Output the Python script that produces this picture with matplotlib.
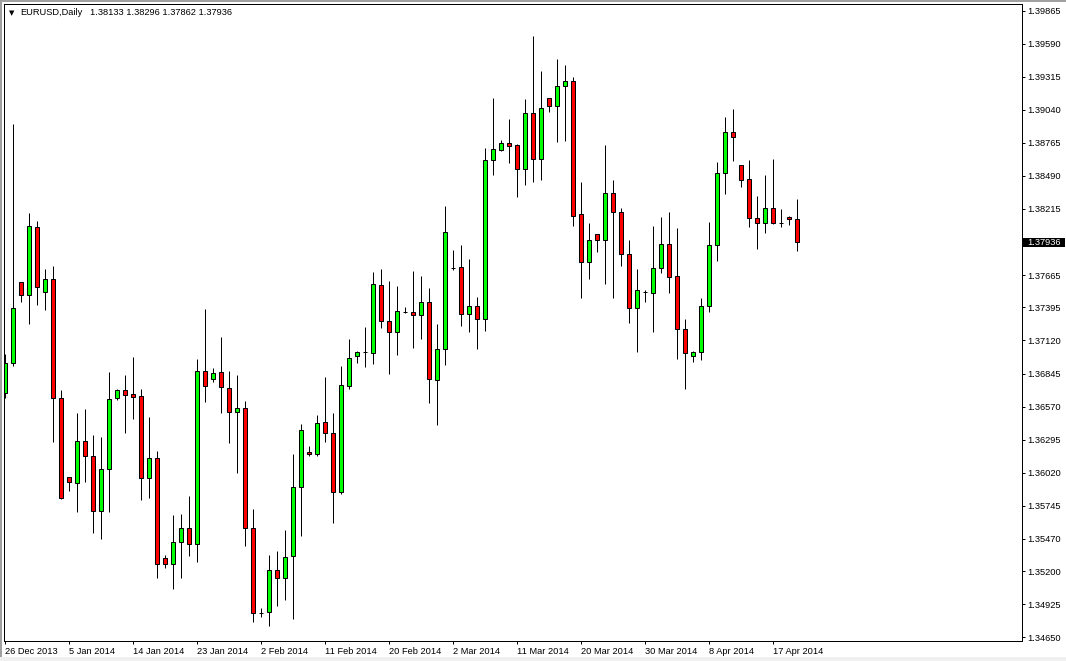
import matplotlib
matplotlib.use("Agg")
import matplotlib.pyplot as plt
import matplotlib.transforms as mtransforms
from matplotlib.patches import Rectangle

# ---------------- data (EURUSD daily) ----------------
symbol = "EURUSD,Daily"

opens = [
    1.36681, 1.36930, 1.37604, 1.37496, 1.38062, 1.37521, 1.37634, 1.36639, 1.35981, 1.35932,
    1.36284, 1.36159, 1.35699, 1.36048, 1.36644, 1.36706, 1.36672, 1.36656, 1.35973, 1.36140,
    1.35307, 1.35257, 1.35440, 1.35557, 1.35424, 1.36864, 1.36797, 1.36855, 1.36722, 1.36522,
    1.36556, 1.35557, 1.34855, 1.34858, 1.35207, 1.35141, 1.35324, 1.35898, 1.36190, 1.36173,
    1.36439, 1.36348, 1.35857, 1.36744, 1.36989, 1.37022, 1.37014, 1.37580, 1.37280, 1.37188,
    1.37360, 1.37355, 1.37330, 1.37438, 1.36789, 1.37047, 1.37726, 1.37729, 1.37338, 1.37405,
    1.37297, 1.38620, 1.38703, 1.38761, 1.38745, 1.38550, 1.39011, 1.38633, 1.39136, 1.39074,
    1.39236, 1.39277, 1.38170, 1.37771, 1.38004, 1.37954, 1.38348, 1.38190, 1.37838, 1.37388,
    1.37521, 1.37513, 1.37721, 1.37921, 1.37654, 1.37213, 1.36991, 1.37022, 1.37405, 1.37912,
    1.38512, 1.38853, 1.38578, 1.38462, 1.38137, 1.38096, 1.38220, 1.38101, 1.38148, 1.38133,
]
highs = [
    1.37005, 1.38922, 1.37604, 1.38179, 1.38112, 1.37713, 1.37738, 1.36708, 1.35985, 1.36514,
    1.36547, 1.36334, 1.36314, 1.36855, 1.36716, 1.36833, 1.36983, 1.36714, 1.36483, 1.36200,
    1.35335, 1.35668, 1.35676, 1.35826, 1.36964, 1.37382, 1.36891, 1.37149, 1.36866, 1.36833,
    1.36617, 1.35715, 1.34891, 1.35335, 1.35368, 1.35545, 1.36175, 1.36425, 1.36242, 1.36500,
    1.36816, 1.36517, 1.36908, 1.37130, 1.37035, 1.37232, 1.37690, 1.37715, 1.37615, 1.37571,
    1.37399, 1.37699, 1.37657, 1.37555, 1.37257, 1.38240, 1.37873, 1.37915, 1.37796, 1.37480,
    1.38720, 1.39138, 1.38789, 1.38964, 1.38753, 1.39130, 1.39654, 1.39363, 1.39140, 1.39463,
    1.39413, 1.39311, 1.38439, 1.38096, 1.38008, 1.38747, 1.38456, 1.38223, 1.37954, 1.37715,
    1.37540, 1.38073, 1.38148, 1.38187, 1.38056, 1.37299, 1.37033, 1.37471, 1.38104, 1.38606,
    1.38980, 1.39047, 1.38582, 1.38620, 1.38320, 1.38498, 1.38631, 1.38215, 1.38156, 1.38296,
]
lows = [
    1.36639, 1.36908, 1.37443, 1.37260, 1.37418, 1.37376, 1.36278, 1.35800, 1.35870, 1.35695,
    1.35945, 1.35515, 1.35465, 1.35695, 1.36625, 1.36353, 1.36467, 1.35793, 1.35812, 1.35146,
    1.35229, 1.35054, 1.35146, 1.35329, 1.35279, 1.36611, 1.36777, 1.36514, 1.36269, 1.36015,
    1.35412, 1.34775, 1.34821, 1.34746, 1.34913, 1.34963, 1.34802, 1.35495, 1.36159, 1.36161,
    1.36278, 1.35604, 1.35840, 1.36719, 1.36930, 1.36902, 1.36927, 1.37227, 1.36839, 1.37002,
    1.37346, 1.37060, 1.37135, 1.36597, 1.36417, 1.36919, 1.37707, 1.37243, 1.37193, 1.37052,
    1.37197, 1.38500, 1.38700, 1.38600, 1.38317, 1.38417, 1.38442, 1.38458, 1.39024, 1.38775,
    1.38783, 1.38076, 1.37476, 1.37634, 1.37859, 1.37588, 1.37476, 1.37743, 1.37268, 1.37027,
    1.37438, 1.37193, 1.37679, 1.37513, 1.36964, 1.36714, 1.36944, 1.36955, 1.37355, 1.37784,
    1.38342, 1.38617, 1.38398, 1.38067, 1.37884, 1.38017, 1.38090, 1.38067, 1.38084, 1.37862,
]
closes = [
    1.36930, 1.37388, 1.37496, 1.38071, 1.37563, 1.37634, 1.36639, 1.35807, 1.35940, 1.36284,
    1.36159, 1.35699, 1.36048, 1.36631, 1.36706, 1.36669, 1.36652, 1.35973, 1.36140, 1.35257,
    1.35257, 1.35440, 1.35557, 1.35424, 1.36864, 1.36739, 1.36847, 1.36731, 1.36522, 1.36556,
    1.35557, 1.34850, 1.34855, 1.35207, 1.35141, 1.35318, 1.35898, 1.36373, 1.36173, 1.36431,
    1.36348, 1.35857, 1.36747, 1.36972, 1.37022, 1.37022, 1.37588, 1.37280, 1.37188, 1.37363,
    1.37360, 1.37330, 1.37438, 1.36797, 1.37047, 1.38021, 1.37726, 1.37338, 1.37405, 1.37297,
    1.38620, 1.38711, 1.38761, 1.38741, 1.38550, 1.39011, 1.38633, 1.39053, 1.39074, 1.39236,
    1.39277, 1.38159, 1.37771, 1.37954, 1.37954, 1.38348, 1.38187, 1.37838, 1.37388, 1.37538,
    1.37521, 1.37721, 1.37921, 1.37646, 1.37213, 1.37014, 1.37022, 1.37405, 1.37912, 1.38512,
    1.38853, 1.38811, 1.38453, 1.38137, 1.38096, 1.38220, 1.38096, 1.38101, 1.38129, 1.37936,
]

date_tick_bars = [0, 8, 16, 24, 32, 40, 48, 56, 64, 72, 80, 88, 96]
date_tick_labels = ["26 Dec 2013", "5 Jan 2014", "14 Jan 2014", "23 Jan 2014",
                    "2 Feb 2014", "11 Feb 2014", "20 Feb 2014", "2 Mar 2014",
                    "11 Mar 2014", "20 Mar 2014", "30 Mar 2014", "8 Apr 2014",
                    "17 Apr 2014"]
price_ticks = [1.34650, 1.34925, 1.35200, 1.35470, 1.35745, 1.36020, 1.36295,
               1.36570, 1.36845, 1.37120, 1.37395, 1.37665, 1.38215, 1.38490,
               1.38765, 1.39040, 1.39315, 1.39590, 1.39865]

# ---------------- figure ----------------
W, H = 1066, 661
DPI = 100
PX = 72.0 / DPI  # points per pixel
FONT = "Liberation Sans"
FS = 6.7

fig = plt.figure(figsize=(W / DPI, H / DPI), dpi=DPI)
fig.patch.set_facecolor("white")

L, R, T, B = 4.0, 1021.5, 4.3, 641.0
ax = fig.add_axes([L / W, 1 - B / H, (R - L) / W, (B - T) / H])
ax.set_facecolor("white")

n = len(opens)
xs = list(range(n))

# wicks
ax.vlines(xs, lows, highs, colors="black", linewidth=1.0 * PX, zorder=1)

# bodies
bottoms = [min(o, c) for o, c in zip(opens, closes)]
heights = [abs(c - o) for o, c in zip(opens, closes)]
colors = []
for o, c in zip(opens, closes):
    if c > o:
        colors.append("#00ff00")
    elif c < o:
        colors.append("#ff0000")
    else:
        colors.append("black")
ax.bar(xs, heights, bottom=bottoms, width=0.52, color=colors,
       edgecolor="black", linewidth=1.0 * PX, zorder=2)

ax.set_xlim(-0.125, 127.06)
ax.set_ylim(1.34619, 1.39918)

# axes styling
for s in ax.spines.values():
    s.set_color("black")
    s.set_linewidth(1.0 * PX)

ax.yaxis.tick_right()
ax.set_yticks(price_ticks)
ax.set_yticklabels([f"{v:.5f}" for v in price_ticks], fontfamily=FONT, fontsize=FS)
ax.tick_params(axis="y", which="both", right=True, left=False, length=3 * PX,
               width=1.0 * PX, pad=2.5 * PX, colors="black")

ax.set_xticks(date_tick_bars)
ax.set_xticklabels(date_tick_labels, fontfamily=FONT, fontsize=FS, ha="left")
ax.tick_params(axis="x", which="both", length=3 * PX, width=1.0 * PX,
               pad=2.6 * PX, colors="black")

# current price label
last = closes[-1]
blend = mtransforms.blended_transform_factory(ax.transAxes, ax.transData)
box_h = 9.5 * (1.39918 - 1.34619) / (B - T)
x0 = (1022.5 - L) / (R - L)
x1 = (1065.0 - L) / (R - L)
ax.add_patch(Rectangle((x0, last - box_h / 2), x1 - x0, box_h, transform=blend,
                       facecolor="black", edgecolor="none", clip_on=False, zorder=5))
ax.text((1027.0 - L) / (R - L), last, f"{last:.5f}", transform=blend, color="white",
        fontfamily=FONT, fontsize=FS, ha="left", va="center", clip_on=False, zorder=6)

# header text
fig.text(9 / W, 1 - 12.7 / H, "\u25bc", fontfamily="DejaVu Sans", fontsize=5.0,
         ha="left", va="center", color="black")
fig.text(20.5 / W, 1 - 12.7 / H, symbol, fontfamily=FONT, fontsize=FS,
         ha="left", va="center", color="black")
fig.text(90.5 / W, 1 - 12.7 / H,
         f"{opens[-1]:.5f} {highs[-1]:.5f} {lows[-1]:.5f} {closes[-1]:.5f}",
         fontfamily=FONT, fontsize=FS, ha="left", va="center", color="black")

# window frame bands
fig.add_artist(Rectangle((0, 1 - 2 / H), 1, 2 / H, transform=fig.transFigure,
                         facecolor="#a0a0a0", edgecolor="none"))
fig.add_artist(Rectangle((0, 0), 2 / W, 1, transform=fig.transFigure,
                         facecolor="#a0a0a0", edgecolor="none"))
fig.add_artist(Rectangle((0, 0), 1, 4 / H, transform=fig.transFigure,
                         facecolor="#f0f0f0", edgecolor="none"))

fig.savefig("out.png", dpi=DPI, facecolor="white")
